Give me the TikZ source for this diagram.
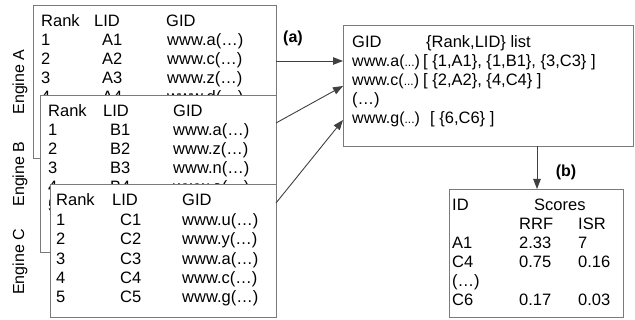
\documentclass[tikz,border=0pt]{standalone}
\usepackage{fontspec}
\setmainfont{Liberation Sans}
\usetikzlibrary{arrows.meta}
\definecolor{boxgray}{HTML}{7A7A7A}
\definecolor{arrgray}{HTML}{404040}
\newcommand{\tdots}{{\fontsize{12}{13}\selectfont ...}}
\begin{document}
\begin{tikzpicture}[x=1pt,y=-1pt,
  tbox/.style={draw=boxgray, line width=0.9pt, fill=white, anchor=north west, inner sep=0pt, outer sep=0pt},
  txt/.style={anchor=base west, inner sep=0pt, font=\fontsize{16.5}{19}\selectfont},
  gtxt/.style={anchor=base west, inner sep=0pt, font=\fontsize{16}{19}\selectfont},
  conn/.style={draw=arrgray, line width=0.9pt, -{Triangle[length=10pt,width=7.5pt]}},
  lab/.style={inner sep=0pt, font=\fontsize{16}{18}\selectfont\bfseries},
  eng/.style={rotate=90, inner sep=0pt, font=\fontsize{16}{18}\selectfont}]
\useasboundingbox (0,0) rectangle (635,320);

% Engine labels
\node[eng] (engA) at (20,82) {Engine A};
\node[eng] (engB) at (20,174) {Engine B};
\node[eng] (engC) at (20,262) {Engine C};

% Engine A table
\node[tbox, minimum width=243pt, minimum height=153pt] (A) at (33,5) {};
\node[txt] (Ah1) at (41,27) {Rank};
\node[txt] (Ah2) at (94,27) {LID};
\node[txt] (Ah3) at (166,27) {GID};
\foreach \r/\l/\g [count=\i] in {1/A1/www.a(…),2/A2/www.c(…),3/A3/www.z(…),4/A4/www.d(…)}{
  \pgfmathsetmacro{\yy}{46+19*(\i-1)}
  \node[txt] (Ar\i) at (41,\yy) {\r};
  \node[txt] (Al\i) at (102,\yy) {\l};
  \node[txt] (Ag\i) at (167,\yy) {\g};
}

% Engine B table
\node[tbox, minimum width=236pt, minimum height=157pt] (B) at (40,95) {};
\node[txt] (Bh1) at (48,117) {Rank};
\node[txt] (Bh2) at (103,117) {LID};
\node[txt] (Bh3) at (173,117) {GID};
\foreach \r/\l/\g [count=\i] in {1/B1/www.a(…),2/B2/www.z(…),3/B3/www.n(…),4/B4/www.e(…)}{
  \pgfmathsetmacro{\yy}{136+19*(\i-1)}
  \node[txt] (Br\i) at (48,\yy) {\r};
  \node[txt] (Bl\i) at (110,\yy) {\l};
  \node[txt] (Bg\i) at (173,\yy) {\g};
}
\node[txt] (Br5) at (48,212) {5};

% Engine C table
\node[tbox, minimum width=226pt, minimum height=133pt] (C) at (50,184) {};
\node[txt] (Ch1) at (56,206) {Rank};
\node[txt] (Ch2) at (112,206) {LID};
\node[txt] (Ch3) at (182,206) {GID};
\foreach \r/\l/\g [count=\i] in {1/C1/www.u(…),2/C2/www.y(…),3/C3/www.a(…),4/C4/www.c(…),5/C5/www.g(…)}{
  \pgfmathsetmacro{\yy}{225.5+19.3*(\i-1)}
  \node[txt] (Cr\i) at (56,\yy) {\r};
  \node[txt] (Cl\i) at (120,\yy) {\l};
  \node[txt] (Cg\i) at (182,\yy) {\g};
}

% GID box
\node[tbox, minimum width=290pt, minimum height=121pt] (G) at (343,25) {};
\node[txt] (Gh1) at (352,48) {GID};
\node[txt] (Gh2) at (426,48) {\{Rank,LID\} list};
\node[gtxt] (Gg1) at (352,67) {www.a(\tdots)};
\node[txt] (Gl1) at (423,67) {[ \{1,A1\}, \{1,B1\}, \{3,C3\} ]};
\node[gtxt] (Gg2) at (352,86) {www.c(\tdots)};
\node[txt] (Gl2) at (423,86) {[ \{2,A2\}, \{4,C4\} ]};
\node[txt] (Gg3) at (352,105) {(…)};
\node[gtxt] (Gg4) at (352,124) {www.g(\tdots)};
\node[txt] (Gl4) at (430,124) {[ \{6,C6\} ]};

% Scores box
\node[tbox, minimum width=174pt, minimum height=128pt] (S) at (449,189) {};
\node[txt] (Sh1) at (452,211) {ID};
\node[txt] (Sh2) at (534,211) {Scores};
\node[txt] (Sh3) at (519,230) {RRF};
\node[txt] (Sh4) at (578,230) {ISR};
\foreach \n/\a/\b [count=\i] in {A1/2.33/7,C4/0.75/0.16,(…)//,C6/0.17/0.03}{
  \pgfmathsetmacro{\yy}{249+19*(\i-1)}
  \node[txt] (Sn\i) at (452,\yy) {\n};
  \node[txt] (Sa\i) at (519,\yy) {\a};
  \node[txt] (Sb\i) at (578,\yy) {\b};
}

% connectors
\coordinate (a1s) at (276,61);
\coordinate (a1e) at (343,61);
\coordinate (a2s) at (276,123);
\coordinate (a2e) at (343,86);
\coordinate (a3s) at (276,203);
\coordinate (a3e) at (343,120);
\coordinate (bs) at (537,146);
\coordinate (be) at (537,189);
\draw[conn] (a1s) -- (a1e);
\draw[conn] (a2s) -- (a2e);
\draw[conn] (a3s) -- (a3e);
\draw[conn] (bs) -- (be);

\node[lab] (la) at (293,38) {(a)};
\node[lab] (lb) at (566,172) {(b)};
\end{tikzpicture}
\end{document}
